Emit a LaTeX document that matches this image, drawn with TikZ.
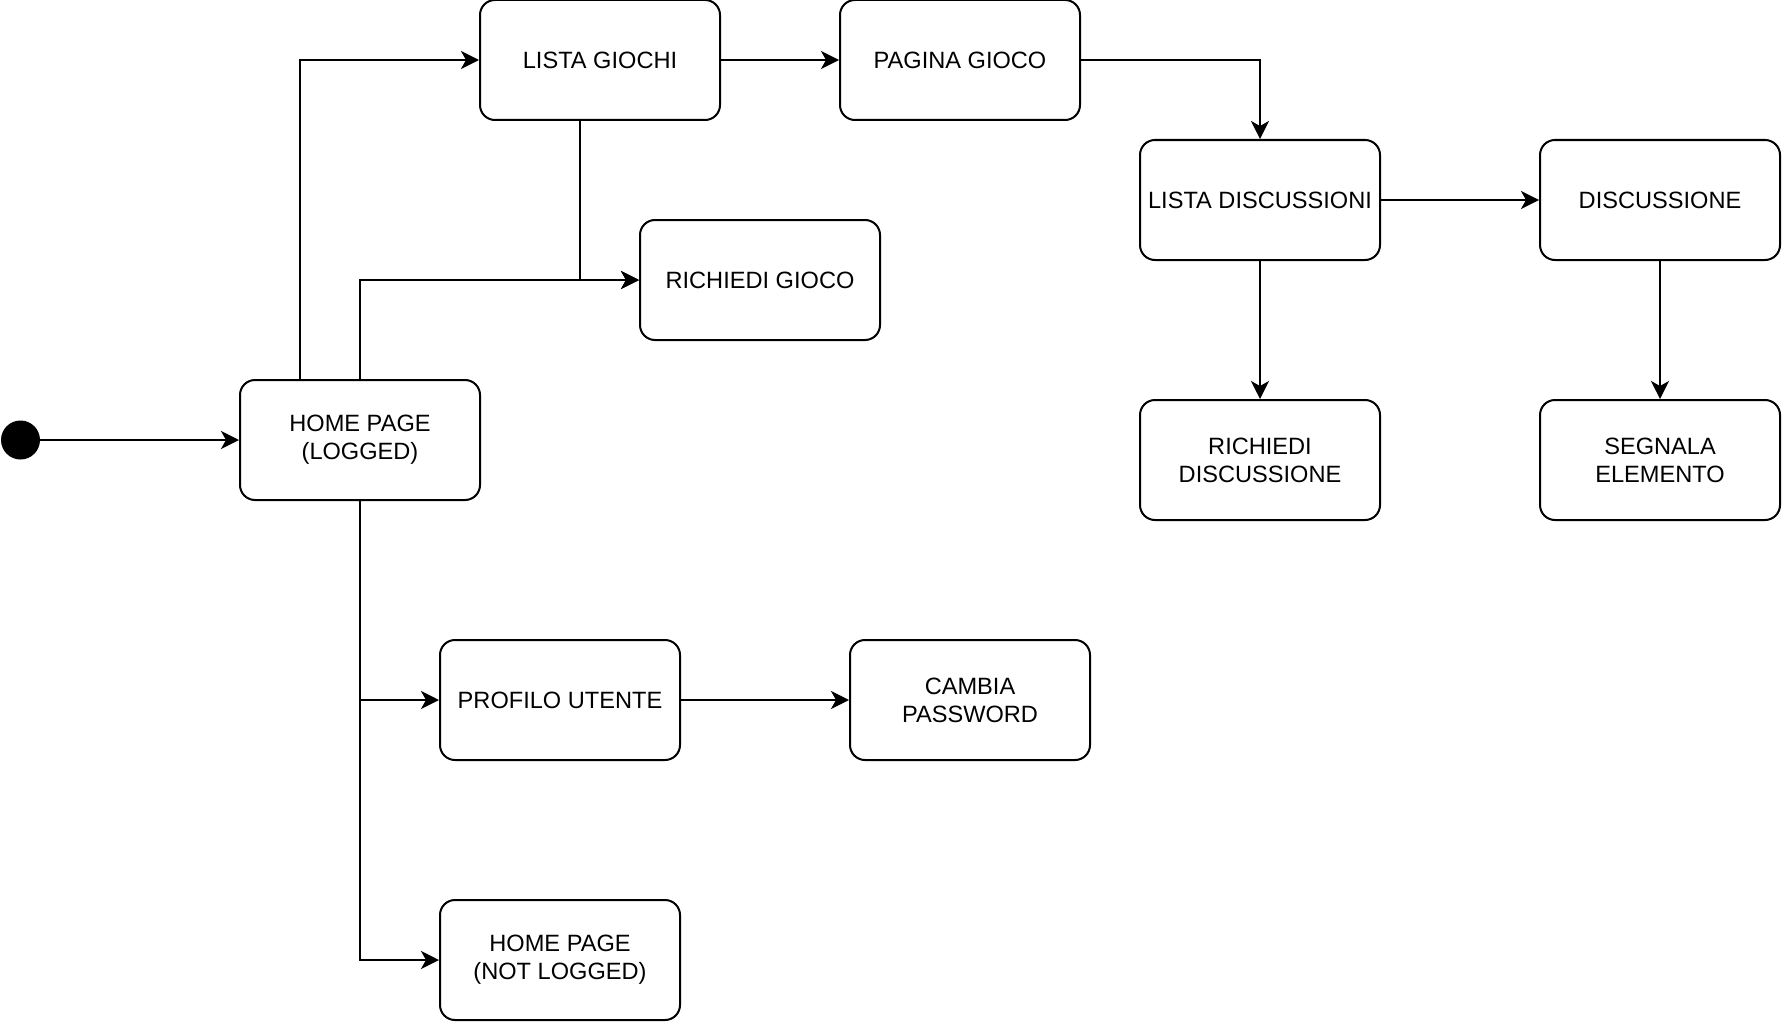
\documentclass[tikz,border=0pt]{standalone}
\usepackage{fontspec}
\setmainfont{Liberation Sans}
\usetikzlibrary{arrows.meta}

\tikzset{
	stato/.style={draw, line width=2pt, rounded corners=15pt, minimum width=240pt, minimum height=120pt,
		inner sep=0pt, align=center, font=\fontsize{23.6}{28}\selectfont},
	inizio/.style={fill=black, circle, minimum size=39pt, inner sep=0pt},
	freccia/.style={line width=2pt, -{Stealth[length=18pt, width=18pt, inset=5pt]}}
}

\begin{document}
\begin{tikzpicture}[x=1pt, y=-1pt]
		%%%%% START %%%%%
		\useasboundingbox (0, 0) rectangle (1782, 1022);
		
		\node[inizio] (start) at (20.5, 440) {};
		\node[stato] (homelogged) at (360, 440) {HOME PAGE\\(LOGGED)};
		
		\node[stato] (listagiochi) at (600, 60) {LISTA GIOCHI};
		\node[stato] (paginagioco) at (960, 60) {PAGINA GIOCO};
		\node[stato] (richiedigioco) at (760, 280) {RICHIEDI GIOCO};
		
		\node[stato] (listadisc) at (1260, 200) {LISTA DISCUSSIONI};
		\node[stato] (discussione) at (1660, 200) {DISCUSSIONE};
		\node[stato] (richiedidisc) at (1260, 460) {RICHIEDI\\DISCUSSIONE};
		\node[stato] (segnala) at (1660, 460) {SEGNALA\\ELEMENTO};
		
		\node[stato] (profilo) at (560, 700) {PROFILO UTENTE};
		\node[stato] (cambiapwd) at (970, 700) {CAMBIA\\PASSWORD};
		\node[stato] (homenotlogged) at (560, 960) {HOME PAGE\\(NOT LOGGED)};
		
		\draw[freccia] (start) -- (homelogged);
		
		\draw[freccia] ([xshift=-60pt]homelogged.north) |- (listagiochi.west);
		\draw[freccia] (homelogged.north) |- (richiedigioco.west);
		\draw[freccia] ([xshift=-20pt]listagiochi.south) |- (richiedigioco.west);
		\draw[freccia] (listagiochi) -- (paginagioco);
		\draw[freccia] (paginagioco.east) -| (listadisc.north);
		
		\draw[freccia] (listadisc) -- (discussione);
		\draw[freccia] (listadisc) -- (richiedidisc);
		\draw[freccia] (discussione) -- (segnala);
		
		\draw[freccia] (homelogged.south) |- (profilo.west);
		\draw[freccia] (homelogged.south) |- (homenotlogged.west);
		\draw[freccia] (profilo) -- (cambiapwd);
		%%%%% END %%%%%
\end{tikzpicture}
\end{document}
